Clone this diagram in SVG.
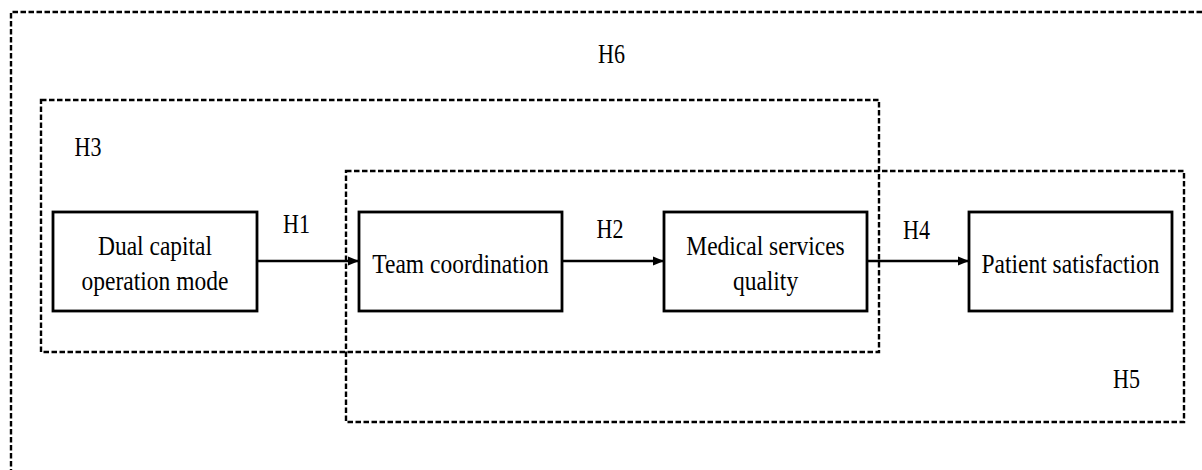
<svg xmlns="http://www.w3.org/2000/svg" width="1202" height="470" viewBox="0 0 1202 470">
  <style>
    .frame { fill: none; stroke: #000; stroke-width: 2.4; stroke-dasharray: 5.5 2.5; }
    .box { fill: #fff; stroke: #000; stroke-width: 2.8; }
    .link { fill: none; stroke: #000; stroke-width: 2.6; marker-end: url(#arrow); }
    .lbl { font-family: "Liberation Serif", "Times New Roman", serif; font-size: 23.5px; fill: #000; text-anchor: middle; }
    .hyp { font-family: "Liberation Serif", "Times New Roman", serif; font-size: 22px; fill: #000; text-anchor: middle; }
  </style>
  <defs>
    <marker id="arrow" viewBox="0 0 11 10" refX="11" refY="5" markerWidth="11" markerHeight="10" markerUnits="userSpaceOnUse" orient="auto">
      <path d="M0,0.5 L11,5 L0,9.5 Z" fill="#000"/>
    </marker>
  </defs>
  <rect width="1202" height="470" fill="#fff"/>

  <!-- hypothesis frames -->
  <g id="frames">
    <path class="frame" d="M1210,12 H11 V480"/>
    <rect class="frame" x="41" y="100" width="838" height="252"/>
    <rect class="frame" x="346" y="171" width="838" height="251"/>
  </g>

  <!-- connectors -->
  <g id="connectors">
    <line class="link" x1="257" y1="261" x2="359" y2="261"/>
    <line class="link" x1="562" y1="261" x2="664" y2="261"/>
    <line class="link" x1="867" y1="261" x2="969" y2="261"/>
  </g>

  <g id="node-dual">
    <rect class="box" x="53" y="212" width="204" height="99"/>
    <text class="lbl" transform="translate(155,255) scale(1,1.12)">Dual capital</text>
    <text class="lbl" transform="translate(155,290) scale(1,1.12)">operation mode</text>
  </g>
  <g id="node-team">
    <rect class="box" x="359" y="212" width="203" height="99"/>
    <text class="lbl" transform="translate(460.5,273) scale(1,1.12)">Team coordination</text>
  </g>
  <g id="node-quality">
    <rect class="box" x="664" y="212" width="203" height="99"/>
    <text class="lbl" transform="translate(765.5,255) scale(1,1.12)">Medical services</text>
    <text class="lbl" transform="translate(765.5,290) scale(1,1.12)">quality</text>
  </g>
  <g id="node-satisfaction">
    <rect class="box" x="969" y="212" width="203" height="99"/>
    <text class="lbl" transform="translate(1070.5,273) scale(1,1.12)">Patient satisfaction</text>
  </g>

  <!-- hypothesis labels -->
  <g id="labels">
    <text class="hyp" transform="translate(611.5,63) scale(1,1.25)">H6</text>
    <text class="hyp" transform="translate(88,156) scale(1,1.25)">H3</text>
    <text class="hyp" transform="translate(296.5,233) scale(1,1.25)">H1</text>
    <text class="hyp" transform="translate(610,238) scale(1,1.25)">H2</text>
    <text class="hyp" transform="translate(916.5,239) scale(1,1.25)">H4</text>
    <text class="hyp" transform="translate(1126.5,388) scale(1,1.25)">H5</text>
  </g>
</svg>
